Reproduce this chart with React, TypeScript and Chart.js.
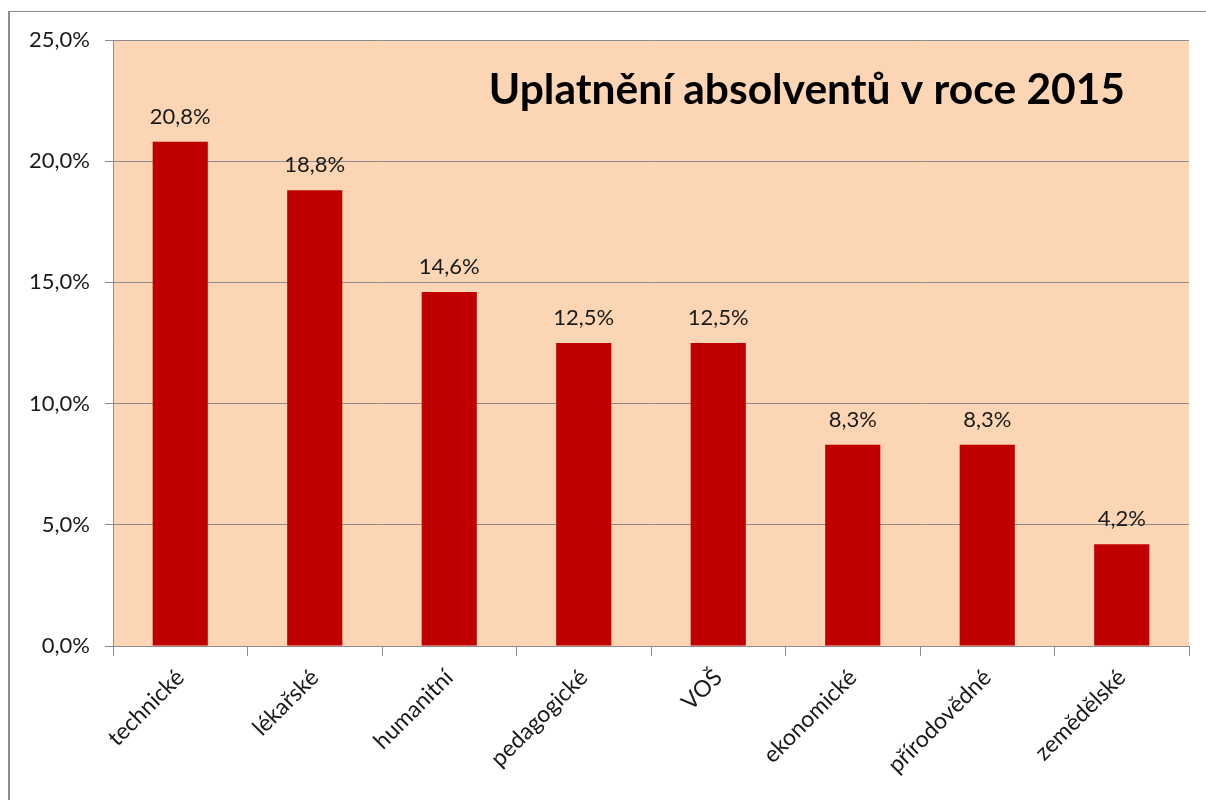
import React, { useEffect, useRef } from "react";
import { Chart, registerables } from "chart.js";

Chart.register(...registerables);

const categories = ["technické", "lékařské", "humanitní", "pedagogické", "VOŠ", "ekonomické", "přírodovědné", "zemědělské"];
const values = [20.8, 18.8, 14.6, 12.5, 12.5, 8.3, 8.3, 4.2];
const yTicks = [0, 5, 10, 15, 20, 25];
const titleText = "Uplatnění absolventů v roce 2015";

const FONT = "Lato, 'Open Sans', sans-serif";
const fmt = (v: number) => v.toFixed(1).replace(".", ",") + "%";

const plotBgPlugin = {
  id: "plotBg",
  beforeDraw(chart: any) {
    const { ctx, chartArea: a } = chart;
    ctx.save();
    ctx.fillStyle = "#FCD5B4";
    ctx.fillRect(a.left, a.top, a.right - a.left, a.bottom - a.top);
    ctx.restore();
  },
};

const labelsPlugin = {
  id: "barLabels",
  afterDatasetsDraw(chart: any) {
    const { ctx, chartArea: a } = chart;
    const meta = chart.getDatasetMeta(0);
    ctx.save();
    ctx.fillStyle = "#1a1a1a";
    ctx.font = "22px " + FONT;
    ctx.textAlign = "center";
    ctx.textBaseline = "alphabetic";
    meta.data.forEach((bar: any, i: number) => {
      ctx.fillText(fmt(values[i]), bar.x, bar.y - 18);
    });
    ctx.font = "bold 42.5px " + FONT;
    ctx.fillStyle = "#000";
    ctx.textAlign = "right";
    ctx.fillText(titleText, a.right - 64, a.top + 64);
    ctx.restore();
  },
};

export default function App() {
  const ref = useRef<HTMLCanvasElement>(null);
  useEffect(() => {
    const chart = new Chart(ref.current!, {
      type: "bar",
      data: {
        labels: categories,
        datasets: [
          {
            data: values,
            backgroundColor: "#C00000",
            borderWidth: 0,
            barPercentage: 0.41,
            categoryPercentage: 1,
          },
        ],
      },
      options: {
        animation: false,
        responsive: false,
        devicePixelRatio: 1,
        layout: { padding: { left: 0, top: 40, right: 17, bottom: 0 } },
        plugins: { legend: { display: false }, tooltip: { enabled: false }, title: { display: false } },
        scales: {
          x: {
            grid: { offset: true, drawOnChartArea: false, tickLength: 10, color: "#8c8c8c", lineWidth: 1 },
            border: { color: "#8c8c8c", width: 1 },
            ticks: {
              maxRotation: 45,
              minRotation: 45,
              autoSkip: false,
              padding: 8,
              color: "#1a1a1a",
              font: { family: FONT, size: 23 },
            },
            afterFit(scale: any) {
              scale.height = 154;
            },
          },
          y: {
            min: 0,
            max: 25,
            afterBuildTicks(scale: any) {
              scale.ticks = yTicks.map((v) => ({ value: v }));
            },
            grid: { color: "#8c8c8c", lineWidth: 1, tickLength: 8 },
            border: { color: "#8c8c8c", width: 1 },
            ticks: {
              padding: 15,
              color: "#1a1a1a",
              font: { family: FONT, size: 22 },
              callback: (v: any) => fmt(Number(v)),
            },
            afterFit(scale: any) {
              scale.width = 113;
            },
          },
        },
      },
      plugins: [plotBgPlugin, labelsPlugin],
    });
    return () => chart.destroy();
  }, []);
  return (
    <div style={{ position: "fixed", left: 0, top: 0, width: 1206, height: 800, overflow: "hidden", background: "#fff" }}>
      <div
        style={{
          position: "absolute",
          left: 8,
          top: 11,
          width: 1300,
          height: 900,
          borderLeft: "2px solid #8c8c8c",
          borderTop: "1px solid #8c8c8c",
        }}
      />
      <canvas ref={ref} width={1206} height={800} style={{ position: "absolute", left: 0, top: 0, width: 1206, height: 800 }} />
    </div>
  );
}
